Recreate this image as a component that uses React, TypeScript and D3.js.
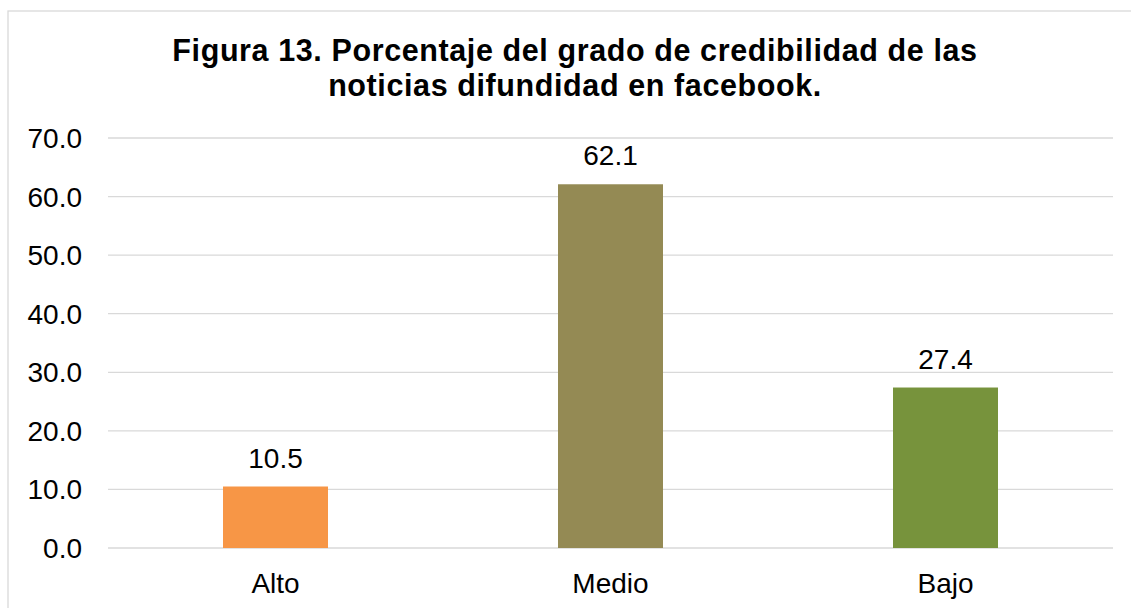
import React from "react";
import * as d3 from "d3";

const categories = ["Alto", "Medio", "Bajo"];
const values = [10.5, 62.1, 27.4];
const barColors = ["#F79646", "#948A54", "#77933C"];
const yTicks = [0, 10, 20, 30, 40, 50, 60, 70];
const titleLines = [
  "Figura 13. Porcentaje del grado de credibilidad de las",
  "noticias difundidad en facebook.",
];

const W = 1131;
const H = 608;
const plotLeft = 108;
const plotRight = 1113;
const plotTop = 138;
const plotBottom = 548;
const font = "Arial, 'Liberation Sans', sans-serif";

export default function App() {
  const x = d3
    .scaleBand<string>()
    .domain(categories)
    .range([plotLeft, plotRight])
    .paddingInner(0.6866)
    .paddingOuter(0.3433);
  const y = d3.scaleLinear().domain([0, 70]).range([plotBottom, plotTop]);
  const fmt = d3.format(".1f");

  return (
    <svg
      width={W}
      height={H}
      style={{ position: "absolute", left: 0, top: 0, display: "block" }}
    >
      <rect x={0} y={0} width={W} height={H} fill="#ffffff" />
      <rect
        x={8}
        y={11}
        width={W + 20}
        height={H + 20}
        fill="#ffffff"
        stroke="#d9d9d9"
        strokeWidth={1.3}
      />
      {titleLines.map((t, i) => (
        <text
          key={i}
          x={575}
          y={60.5 + i * 35}
          textAnchor="middle"
          fontFamily={font}
          fontWeight="bold"
          fontSize={30.5}
          letterSpacing={0.6}
          fill="#000"
        >
          {t}
        </text>
      ))}
      {yTicks.map((t) => (
        <g key={t}>
          <line
            x1={plotLeft}
            x2={plotRight}
            y1={y(t)}
            y2={y(t)}
            stroke="#d9d9d9"
            strokeWidth={1.3}
          />
          <text
            x={82}
            y={y(t) + 10}
            textAnchor="end"
            fontFamily={font}
            fontSize={28}
            fill="#000"
          >
            {fmt(t)}
          </text>
        </g>
      ))}
      {categories.map((c, i) => (
        <g key={c}>
          <rect
            x={x(c)}
            y={y(values[i])}
            width={x.bandwidth()}
            height={y(0) - y(values[i])}
            fill={barColors[i]}
          />
          <text
            x={(x(c) as number) + x.bandwidth() / 2}
            y={y(values[i]) - 19}
            textAnchor="middle"
            fontFamily={font}
            fontSize={28}
            fill="#000"
          >
            {fmt(values[i])}
          </text>
          <text
            x={(x(c) as number) + x.bandwidth() / 2}
            y={593}
            textAnchor="middle"
            fontFamily={font}
            fontSize={28}
            fill="#000"
          >
            {c}
          </text>
        </g>
      ))}
    </svg>
  );
}
